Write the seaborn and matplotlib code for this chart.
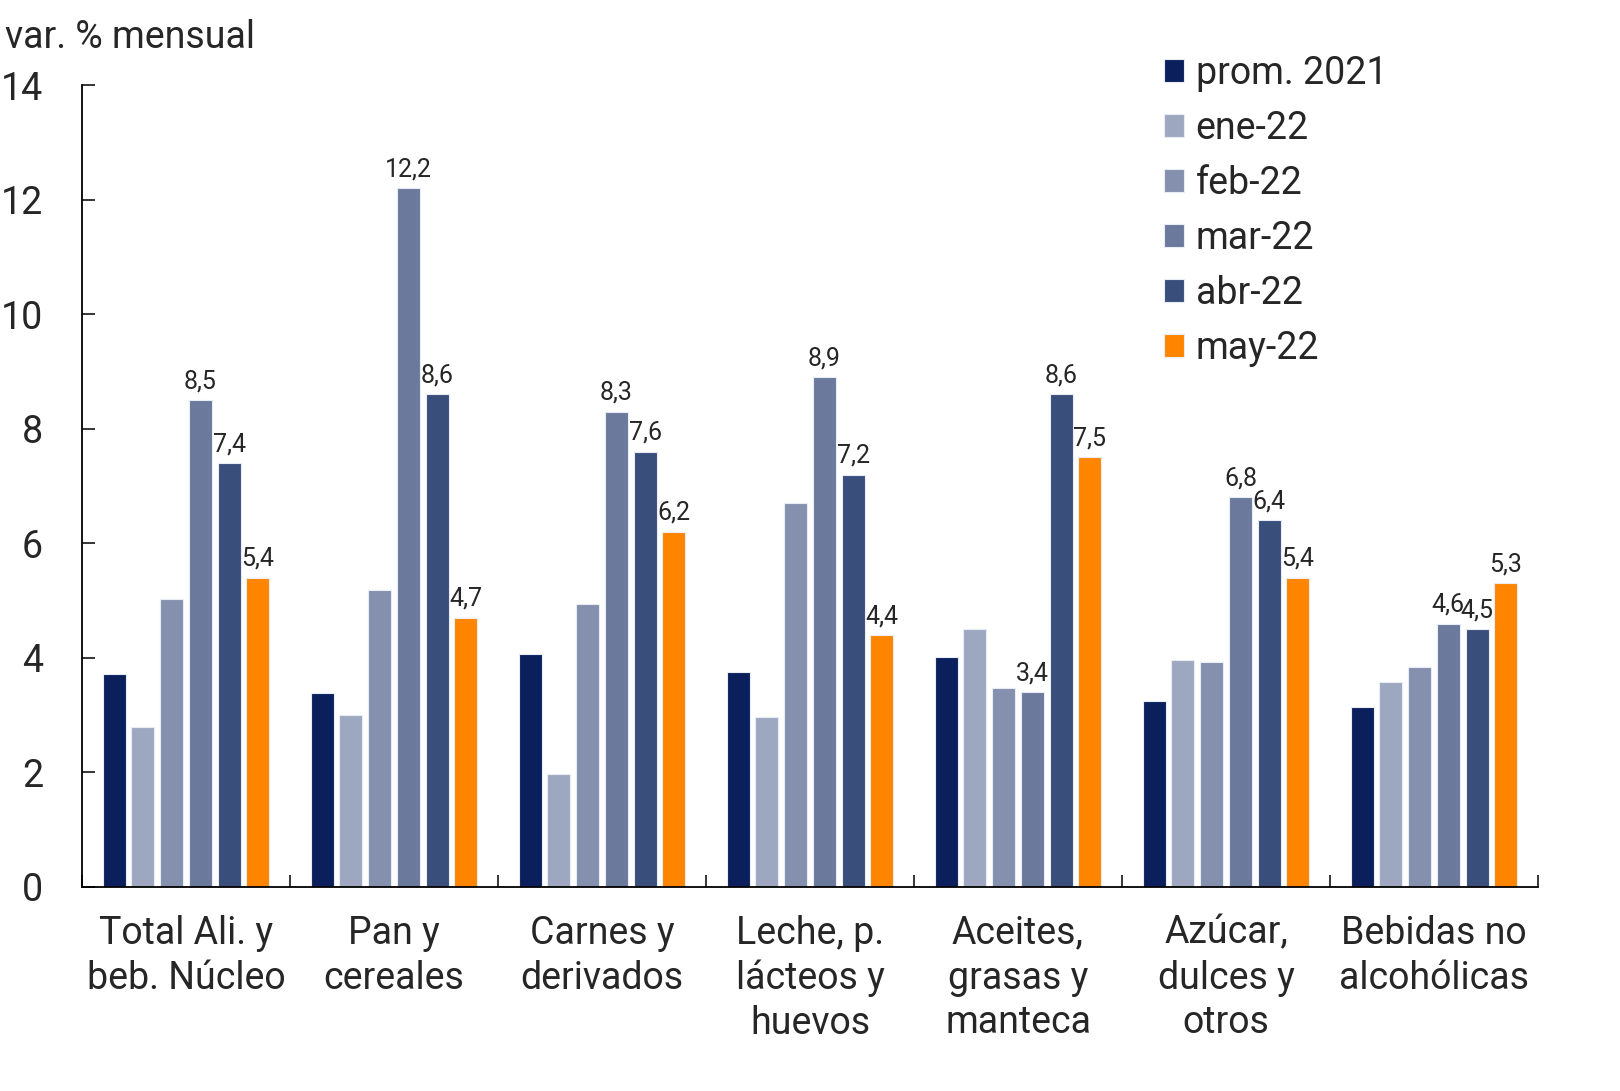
import pandas as pd
import matplotlib.pyplot as plt
import seaborn as sns

# Data
categories = [
    "Total Ali. y\nbeb. Núcleo",
    "Pan y\ncereales",
    "Carnes y\nderivados",
    "Leche, p.\nlácteos y\nhuevos",
    "Aceites,\ngrasas y\nmanteca",
    "Azúcar,\ndulces y\notros",
    "Bebidas no\nalcohólicas",
]
series = ["prom. 2021", "ene-22", "feb-22", "mar-22", "abr-22", "may-22"]
prom_2021 = [3.72, 3.39, 4.07, 3.76, 4.01, 3.25, 3.14]
ene_22 = [2.80, 3.00, 1.97, 2.97, 4.50, 3.97, 3.58]
feb_22 = [5.03, 5.19, 4.94, 6.70, 3.47, 3.93, 3.84]
mar_22 = [8.5, 12.2, 8.3, 8.9, 3.4, 6.8, 4.6]
abr_22 = [7.4, 8.6, 7.6, 7.2, 8.6, 6.4, 4.5]
may_22 = [5.4, 4.7, 6.2, 4.4, 7.5, 5.4, 5.3]
labelled = ["mar-22", "abr-22", "may-22"]

colors = ["#0A1F5C", "#9DA8C0", "#8490AD", "#6B7A9C", "#3A4E7C", "#FF8500"]

values = [prom_2021, ene_22, feb_22, mar_22, abr_22, may_22]
rows = []
for s, vals in zip(series, values):
    for c, v in zip(categories, vals):
        rows.append({"categoria": c, "serie": s, "valor": v})
df = pd.DataFrame(rows)

sns.set_style("white")
plt.rcParams["font.family"] = ["Roboto", "DejaVu Sans"]

fig = plt.figure(figsize=(16.2, 10.91), dpi=100)
ax = fig.add_axes([0.0506, 0.187, 0.8988, 0.735])

sns.barplot(
    data=df,
    x="categoria",
    y="valor",
    hue="serie",
    hue_order=series,
    order=categories,
    palette=colors,
    saturation=1,
    width=0.83,
    gap=0.2,
    edgecolor="#e8ecf4",
    linewidth=0.8,
    errorbar=None,
    ax=ax,
)

# value labels for last three series
for s, cont in zip(series, ax.containers):
    if s in labelled:
        ax.bar_label(
            cont,
            labels=[f"{v:.1f}".replace(".", ",") for v in cont.datavalues],
            padding=5,
            fontsize=18,
        )

ax.set_ylim(0, 14)
ax.set_xlim(-0.5, len(categories) - 0.5)
ax.set_yticks(range(0, 15, 2))
ax.set_xlabel("")
ax.set_ylabel("")

for side in ["top", "right"]:
    ax.spines[side].set_visible(False)
for side in ["left", "bottom"]:
    ax.spines[side].set_color("black")
    ax.spines[side].set_linewidth(1.3)

ax.tick_params(axis="y", direction="in", length=9, width=1.3, labelsize=27, pad=28, left=True)
ax.tick_params(axis="x", which="major", length=0, labelsize=27, pad=20)
ax.set_xticks([i - 0.5 for i in range(len(categories) + 1)], minor=True)
ax.tick_params(axis="x", which="minor", direction="in", length=9, width=1.3, bottom=True)
for lab in ax.get_xticklabels():
    lab.set_linespacing(1.27)

fig.text(0.003, 0.966, "var. % mensual", fontsize=27, ha="left", va="center")

handles, labels = ax.get_legend_handles_labels()
ax.legend(
    handles,
    labels,
    loc="upper left",
    bbox_to_anchor=(1145 / 1620, 1 - 36 / 1091),
    bbox_transform=fig.transFigure,
    frameon=False,
    fontsize=27,
    handlelength=0.55,
    handleheight=0.55,
    handletextpad=0.3,
    labelspacing=0.48,
    borderpad=0,
)

plt.savefig("out.png", dpi=100)
plt.close()
